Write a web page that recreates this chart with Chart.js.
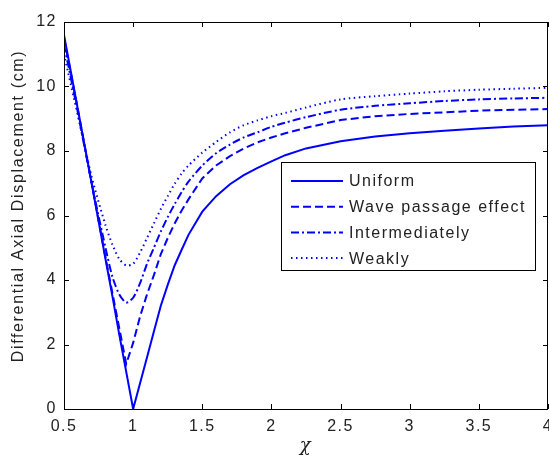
<!DOCTYPE html>
<html><head><meta charset="utf-8">
<script src="https://cdn.jsdelivr.net/npm/chart.js@4"></script>
<style>html,body{margin:0;padding:0;background:#fff;}canvas{display:block;}</style>
</head><body>
<canvas id="c" width="549" height="459"></canvas>
<script>
const chi          = [0.5,0.6,0.7,0.8,0.85,0.9,0.95,1.0,1.05,1.1,1.15,1.2,1.25,1.3,1.35,1.4,1.5,1.6,1.7,1.8,1.9,2.0,2.1,2.25,2.5,2.75,3.0,3.25,3.5,3.75,4.0];
const uniform      = [11.6,9.3,7.0,4.65,3.5,2.3,1.15,0.0,0.8,1.6,2.4,3.2,3.85,4.45,4.93,5.4,6.12,6.6,6.97,7.25,7.48,7.68,7.87,8.08,8.3,8.45,8.55,8.63,8.7,8.76,8.8];
const wavePassage  = [11.5,9.3,7.0,4.7,3.6,2.5,1.4,2.05,2.87,3.55,4.15,4.8,5.3,5.75,6.15,6.5,7.15,7.55,7.84,8.08,8.27,8.42,8.55,8.72,8.96,9.08,9.15,9.2,9.25,9.28,9.3];
const intermediate = [11.3,9.2,7.0,5.0,4.1,3.55,3.3,3.45,3.9,4.5,5.0,5.5,5.95,6.35,6.72,7.05,7.55,7.93,8.2,8.42,8.58,8.75,8.88,9.05,9.28,9.4,9.48,9.55,9.6,9.63,9.65];
const weakly       = [11.0,9.1,7.2,5.7,5.1,4.65,4.45,4.5,4.85,5.3,5.75,6.2,6.6,6.98,7.3,7.55,7.95,8.28,8.58,8.8,8.95,9.08,9.18,9.35,9.6,9.7,9.78,9.85,9.9,9.93,9.96];
const seriesNames = ['Uniform','Wave passage effect','Intermediately','Weakly'];
const xTicks = [0.5,1,1.5,2,2.5,3,3.5,4];
const yTicks = [0,2,4,6,8,10,12];
const yTitle = 'Differential Axial Displacement (cm)';

const BLUE = '#0000ff';
const TEXT = '#222';
const FONT = '"Liberation Sans", Arial, sans-serif';
const dashes = [[], [8,4], [8,3,2,3], [1.5,3.5]];
const tensions = [0, 0, 0.25, 0.25];
const vals = [uniform, wavePassage, intermediate, weakly];
const datasets = vals.map((v,i)=>({
  label: seriesNames[i],
  data: chi.map((x,j)=>({x:x,y:v[j]})),
  borderColor: BLUE, borderWidth: 2, borderDash: dashes[i],
  pointRadius: 0, tension: tensions[i], fill:false
}));

const framePlugin = {
  id:'frame',
  beforeDraw(chart){
    chart.ctx.letterSpacing = '1.5px';
  },
  afterDraw(chart){
    const {ctx, chartArea:a, scales:{x,y}} = chart;
    ctx.save();
    ctx.strokeStyle='#000'; ctx.lineWidth=1;
    ctx.beginPath();
    ctx.rect(Math.round(a.left)+0.5, Math.round(a.top)+0.5, Math.round(a.right-a.left)-1, Math.round(a.bottom-a.top));
    ctx.stroke();
    const L=5;
    ctx.beginPath();
    xTicks.forEach(t=>{
      const px=Math.round(x.getPixelForValue(t))+0.5;
      ctx.moveTo(px,a.bottom); ctx.lineTo(px,a.bottom-L);
      ctx.moveTo(px,a.top); ctx.lineTo(px,a.top+L);
    });
    yTicks.forEach(t=>{
      const py=Math.round(y.getPixelForValue(t))+0.5;
      ctx.moveTo(a.left,py); ctx.lineTo(a.left+L,py);
      ctx.moveTo(a.right,py); ctx.lineTo(a.right-L,py);
    });
    ctx.stroke();
    // y title
    ctx.save();
    ctx.translate(19, 206); ctx.rotate(-Math.PI/2);
    ctx.font='16px '+FONT; ctx.fillStyle=TEXT; ctx.letterSpacing='1.65px';
    ctx.textAlign='center'; ctx.textBaseline='middle';
    ctx.fillText(yTitle, 0, 0);
    ctx.restore();
    // legend
    const bx=281.5, by=162.5, bw=254, bh=108;
    ctx.fillStyle='#fff'; ctx.fillRect(bx,by,bw,bh);
    ctx.strokeStyle='#000'; ctx.lineWidth=1; ctx.strokeRect(bx,by,bw,bh);
    ctx.font='16px '+FONT; ctx.letterSpacing='1.5px';
    ctx.textBaseline='middle'; ctx.textAlign='left';
    chart.data.datasets.forEach((d,i)=>{
      const yy = 181 + i*25.7;
      ctx.strokeStyle=BLUE; ctx.lineWidth=2; ctx.setLineDash(d.borderDash);
      ctx.beginPath(); ctx.moveTo(291,yy); ctx.lineTo(343,yy); ctx.stroke();
      ctx.setLineDash([]);
      ctx.fillStyle=TEXT; ctx.fillText(d.label, 349, yy+1);
    });
    ctx.restore();
    ctx.letterSpacing = '0px';
  }
};

new Chart(document.getElementById('c'), {
  type:'line',
  data:{datasets},
  plugins:[framePlugin],
  options:{
    responsive:false, animation:false,
    layout:{padding:{top:22,right:1,left:0,bottom:0}},
    plugins:{legend:{display:false}, tooltip:{enabled:false}},
    scales:{
      x:{type:'linear', min:0.5, max:4,
         afterBuildTicks(s){ s.ticks = xTicks.map(v=>({value:v})); },
         afterFit(s){ s.height = 50; s.paddingLeft = 0; s.paddingRight = 0; },
         grid:{display:false, drawTicks:false}, border:{display:false},
         ticks:{color:TEXT, font:{family:FONT, size:16}, padding:8, maxRotation:0,
                callback:(v)=>String(v)},
         title:{display:true, text:'χ', color:TEXT, font:{family:'"DejaVu Serif", serif', size:18, style:'italic'}, padding:{top:2, bottom:2}}
      },
      y:{min:0, max:12,
         afterBuildTicks(s){ s.ticks = yTicks.map(v=>({value:v})); },
         afterFit(s){ s.width = 64; s.paddingTop = 0; s.paddingBottom = 0; },
         grid:{display:false, drawTicks:false}, border:{display:false},
         ticks:{color:TEXT, font:{family:FONT, size:16}, padding:7}
      }
    }
  }
});
</script>
</body></html>
